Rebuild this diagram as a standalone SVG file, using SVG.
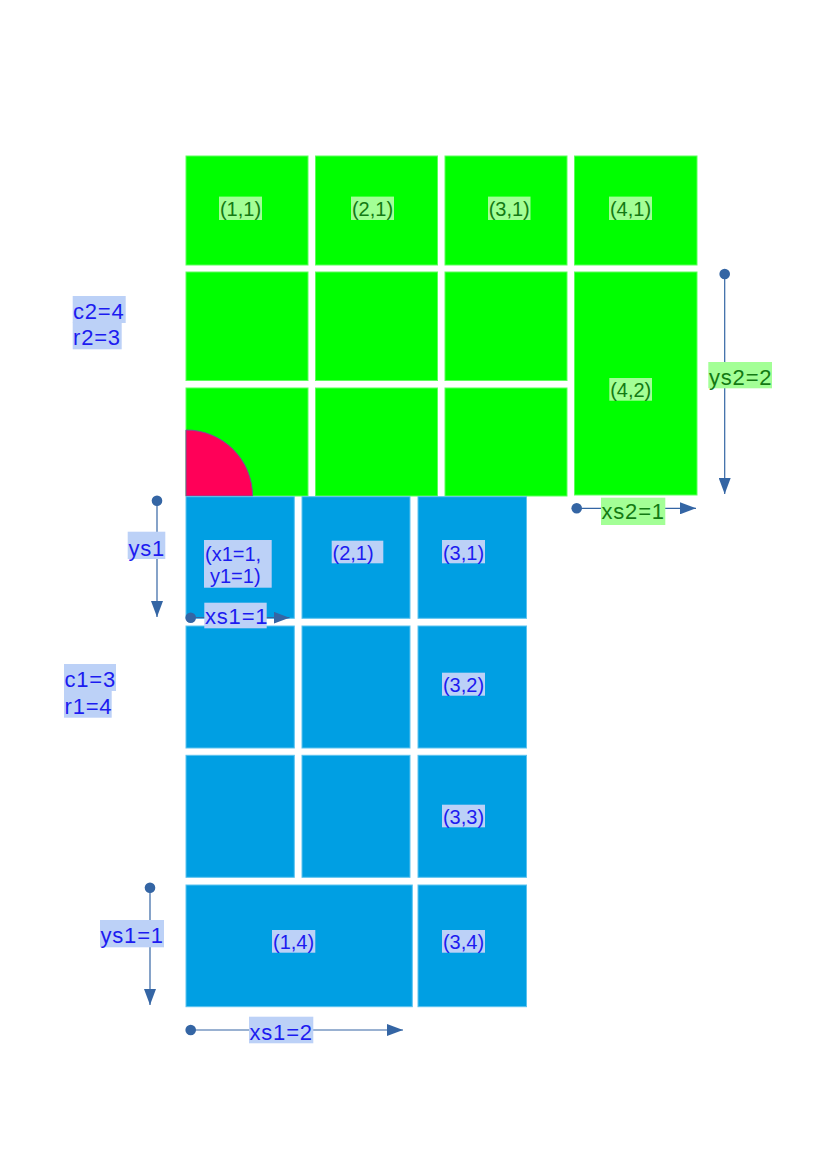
<svg xmlns="http://www.w3.org/2000/svg" width="832" height="1160" viewBox="0 0 832 1160">
<style>
.g{fill:#00ff00;stroke:#5cff5c;stroke-width:1}
.b{fill:#009fe3;stroke:#5cc3ef;stroke-width:1}
.gl{fill:#a3ff96}
.bl{fill:#bcd1f7}
.gt{font-family:"Liberation Sans",Arial,sans-serif;font-size:20px;fill:#137a13}
.bt{font-family:"Liberation Sans",Arial,sans-serif;font-size:20px;fill:#1c1cf0}
.big{font-size:22px;letter-spacing:0.8px}
.c{text-anchor:middle}
.conn{stroke:#3465a4;stroke-width:1.2;fill:none;marker-start:url(#dot);marker-end:url(#arr)}
</style>
<defs>
<marker id="arr" markerUnits="userSpaceOnUse" markerWidth="16" markerHeight="12" viewBox="0 0 16 12" refX="16" refY="6" orient="auto"><path d="M0,0 L16,6 L0,12 Z" fill="#3465a4"/></marker>
<marker id="dot" markerUnits="userSpaceOnUse" markerWidth="12" markerHeight="12" viewBox="0 0 12 12" refX="6" refY="6" orient="auto"><circle cx="6" cy="6" r="5.3" fill="#3465a4"/></marker>
</defs>
<rect width="832" height="1160" fill="#ffffff"/>

<g id="green-grid">
<rect id="g11" class="g" x="186" y="156" width="122" height="109"/>
<rect id="g21" class="g" x="315.5" y="156" width="122" height="109"/>
<rect id="g31" class="g" x="445" y="156" width="122" height="109"/>
<rect id="g41" class="g" x="574.5" y="156" width="122.5" height="109"/>
<rect id="g12" class="g" x="186" y="272" width="122" height="108.5"/>
<rect id="g22" class="g" x="315.5" y="272" width="122" height="108.5"/>
<rect id="g32" class="g" x="445" y="272" width="122" height="108.5"/>
<rect id="g42" class="g" x="574.5" y="272" width="122.5" height="223"/>
<rect id="g13" class="g" x="186" y="388" width="122" height="108"/>
<rect id="g23" class="g" x="315.5" y="388" width="122" height="108"/>
<rect id="g33" class="g" x="445" y="388" width="122" height="108"/>
</g>

<g id="quarter">
<path d="M186,496 L186,430 A66.5,66 0 0 1 252.5,496 Z" fill="#ff0058" stroke="#7a4f96" stroke-width="1"/>
</g>

<g id="blue-grid">
<rect id="b11" class="b" x="186" y="496.7" width="108.3" height="121.6"/>
<rect id="b21" class="b" x="302" y="496.7" width="108" height="121.6"/>
<rect id="b31" class="b" x="418" y="496.7" width="108.5" height="121.6"/>
<rect id="b12" class="b" x="186" y="626" width="108.3" height="122"/>
<rect id="b22" class="b" x="302" y="626" width="108" height="122"/>
<rect id="b32" class="b" x="418" y="626" width="108.5" height="122"/>
<rect id="b13" class="b" x="186" y="755.3" width="108.3" height="122"/>
<rect id="b23" class="b" x="302" y="755.3" width="108" height="122"/>
<rect id="b33" class="b" x="418" y="755.3" width="108.5" height="122"/>
<rect id="b14" class="b" x="186" y="885" width="226.3" height="121.7"/>
<rect id="b34" class="b" x="418" y="885" width="108.5" height="121.7"/>
</g>

<g id="connectors">
<line class="conn" x1="724.7" y1="274" x2="724.7" y2="494"/>
<line class="conn" x1="576.7" y1="508.3" x2="696" y2="508.3"/>
<line class="conn" x1="157" y1="500.7" x2="157" y2="617"/>
<line class="conn" x1="190.7" y1="617.7" x2="289.5" y2="617.7"/>
<line class="conn" x1="150" y1="887.7" x2="150" y2="1005"/>
<line class="conn" x1="190.7" y1="1030" x2="403" y2="1030"/>
</g>

<g id="green-labels">
<g id="lg11"><rect class="gl" x="219" y="196.6" width="43" height="23.4"/><text class="gt c" x="240.5" y="216">(1,1)</text></g>
<g id="lg21"><rect class="gl" x="351" y="196.6" width="43" height="23.4"/><text class="gt c" x="372.5" y="216">(2,1)</text></g>
<g id="lg31"><rect class="gl" x="488" y="196.6" width="42.5" height="23.4"/><text class="gt c" x="509.2" y="216">(3,1)</text></g>
<g id="lg41"><rect class="gl" x="609" y="196.6" width="43" height="23.4"/><text class="gt c" x="630.5" y="216">(4,1)</text></g>
<g id="lg42"><rect class="gl" x="609.3" y="378" width="42.7" height="22.7"/><text class="gt c" x="630.7" y="397">(4,2)</text></g>
<g id="lys2"><rect class="gl" x="708.3" y="362" width="63.7" height="26.3"/><text class="gt big" x="709" y="384.5">ys2=2</text></g>
<g id="lxs2"><rect class="gl" x="601" y="497.7" width="64.3" height="27.3"/><text class="gt big" x="601.5" y="519">xs2=1</text></g>
</g>

<g id="blue-labels">
<g id="lc2"><rect class="bl" x="72.7" y="296" width="53" height="27"/><rect class="bl" x="72.7" y="322.5" width="49" height="26.8"/>
<text class="bt big" x="73" y="318.5">c2=4</text><text class="bt big" x="73" y="345">r2=3</text></g>
<g id="lb11"><rect class="bl" x="204" y="540" width="67.7" height="47.7"/><text class="bt" x="205" y="561">(x1=1,</text><text class="bt" x="210" y="583">y1=1)</text></g>
<g id="lb21"><rect class="bl" x="331.7" y="540.7" width="51.6" height="22.6"/><text class="bt" x="332.5" y="560">(2,1)</text></g>
<g id="lb31"><rect class="bl" x="442" y="540" width="43" height="23.3"/><text class="bt c" x="463.5" y="559.5">(3,1)</text></g>
<g id="lb32"><rect class="bl" x="442" y="672.7" width="43" height="23"/><text class="bt c" x="463.5" y="692">(3,2)</text></g>
<g id="lb33"><rect class="bl" x="442" y="804.7" width="43" height="22.6"/><text class="bt c" x="463.5" y="824">(3,3)</text></g>
<g id="lb34"><rect class="bl" x="442" y="930" width="43" height="22.7"/><text class="bt c" x="463.5" y="949.3">(3,4)</text></g>
<g id="lb14"><rect class="bl" x="272" y="930" width="43.3" height="22.7"/><text class="bt c" x="293.6" y="949.3">(1,4)</text></g>
<g id="lys1"><rect class="bl" x="127.7" y="531.7" width="37.6" height="27.3"/><text class="bt big" x="128.5" y="555.5">ys1</text></g>
<g id="lxs1a"><rect class="bl" x="204.3" y="602.7" width="62.4" height="25.6"/><text class="bt big" x="205" y="623.5">xs1=1</text></g>
<g id="lc1"><rect class="bl" x="64" y="664" width="52" height="27"/><rect class="bl" x="64" y="690.5" width="47.7" height="27.2"/>
<text class="bt big" x="64.5" y="686.5">c1=3</text><text class="bt big" x="64.5" y="714">r1=4</text></g>
<g id="lys1b"><rect class="bl" x="100" y="920" width="64" height="27.3"/><text class="bt big" x="100.5" y="942.5">ys1=1</text></g>
<g id="lxs1b"><rect class="bl" x="249" y="1016.7" width="64.3" height="26.6"/><text class="bt big" x="249.5" y="1039.5">xs1=2</text></g>
</g>
</svg>
